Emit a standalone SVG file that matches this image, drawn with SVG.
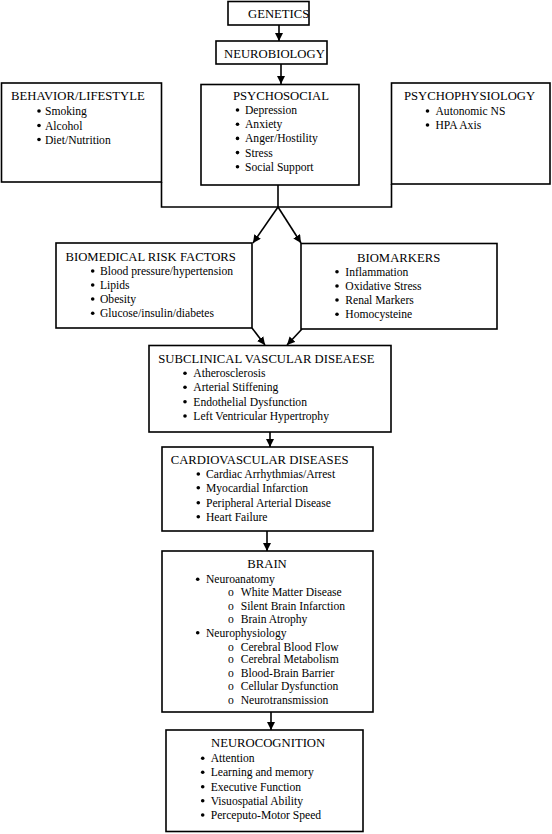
<svg xmlns="http://www.w3.org/2000/svg" width="552" height="834" viewBox="0 0 552 834">
<defs>
<marker id="ah" viewBox="0 0 10 10" refX="10" refY="5" markerWidth="8" markerHeight="8" markerUnits="userSpaceOnUse" orient="auto">
<path d="M0,0 L10,5 L0,10 z" fill="#000"/>
</marker>
<style>
rect.box{fill:#fff;stroke:#000;stroke-width:1.6}
text{font-family:"Liberation Serif","Times New Roman",serif;fill:#000}
.t{font-size:12.7px}
.i{font-size:11.6px}
.ln{fill:none;stroke:#000;stroke-width:1.6}
.ar{fill:none;stroke:#000;stroke-width:1.6;marker-end:url(#ah)}
circle{fill:#000}
</style>
</defs>
<rect width="552" height="834" fill="#fff"/>

<g id="connectors">
<line class="ar" x1="279" y1="25" x2="279" y2="41"/>
<line class="ar" x1="281" y1="64" x2="281" y2="84"/>
<polyline class="ln" points="161.5,182 161.5,207 391.5,207 391.5,184"/>
<line class="ln" x1="278" y1="185" x2="278" y2="207"/>
<line class="ar" x1="278" y1="207" x2="253" y2="243"/>
<line class="ar" x1="278" y1="207" x2="301" y2="243"/>
<line class="ar" x1="252" y1="328" x2="265" y2="345"/>
<line class="ar" x1="302" y1="329" x2="287" y2="345"/>
<line class="ar" x1="270" y1="432" x2="270" y2="447"/>
<line class="ar" x1="267" y1="531" x2="267" y2="551"/>
<line class="ar" x1="271" y1="712" x2="271" y2="730"/>
</g>

<g id="genetics">
<rect class="box" x="228" y="1.5" width="81" height="23.5"/>
<text class="t" x="248" y="18">GENETICS</text>
</g>

<g id="neurobiology">
<rect class="box" x="216" y="41" width="111" height="23"/>
<text class="t" x="224" y="57.5">NEUROBIOLOGY</text>
</g>

<g id="behavior">
<rect class="box" x="1.5" y="83" width="160" height="99"/>
<text class="t" x="11" y="100">BEHAVIOR/LIFESTYLE</text>
<circle cx="39" cy="111" r="1.8"/><text class="i" x="45" y="115">Smoking</text>
<circle cx="39" cy="125.5" r="1.8"/><text class="i" x="45" y="129.5">Alcohol</text>
<circle cx="39" cy="139.5" r="1.8"/><text class="i" x="45" y="143.5">Diet/Nutrition</text>
</g>

<g id="psychosocial">
<rect class="box" x="201" y="84.5" width="158" height="100.5"/>
<text class="t" x="233" y="99.5">PSYCHOSOCIAL</text>
<circle cx="237.5" cy="110" r="1.8"/><text class="i" x="245" y="114">Depression</text>
<circle cx="237.5" cy="124.2" r="1.8"/><text class="i" x="245" y="128.2">Anxiety</text>
<circle cx="237.5" cy="138.4" r="1.8"/><text class="i" x="245" y="142.4">Anger/Hostility</text>
<circle cx="237.5" cy="152.6" r="1.8"/><text class="i" x="245" y="156.6">Stress</text>
<circle cx="237.5" cy="166.8" r="1.8"/><text class="i" x="245" y="170.8">Social Support</text>
</g>

<g id="psychophysiology">
<rect class="box" x="391.5" y="83" width="158.5" height="101"/>
<text class="t" x="404" y="100">PSYCHOPHYSIOLOGY</text>
<circle cx="427.5" cy="111" r="1.8"/><text class="i" x="435.5" y="115">Autonomic NS</text>
<circle cx="427.5" cy="125" r="1.8"/><text class="i" x="435.5" y="129">HPA Axis</text>
</g>

<g id="biomedical">
<rect class="box" x="56" y="243" width="196" height="85"/>
<text class="t" x="65.5" y="260.5">BIOMEDICAL RISK FACTORS</text>
<circle cx="92.7" cy="271" r="1.8"/><text class="i" x="100" y="275">Blood pressure/hypertension</text>
<circle cx="92.7" cy="285" r="1.8"/><text class="i" x="100" y="289">Lipids</text>
<circle cx="92.7" cy="299" r="1.8"/><text class="i" x="100" y="303">Obesity</text>
<circle cx="92.7" cy="313.3" r="1.8"/><text class="i" x="100" y="317.3">Glucose/insulin/diabetes</text>
</g>

<g id="biomarkers">
<rect class="box" x="301" y="243.5" width="196" height="85.5"/>
<text class="t" x="357" y="261.5">BIOMARKERS</text>
<circle cx="337" cy="271.7" r="1.8"/><text class="i" x="345.3" y="275.7">Inflammation</text>
<circle cx="337" cy="286" r="1.8"/><text class="i" x="345.3" y="290">Oxidative Stress</text>
<circle cx="337" cy="300" r="1.8"/><text class="i" x="345.3" y="304">Renal Markers</text>
<circle cx="337" cy="314.3" r="1.8"/><text class="i" x="345.3" y="318.3">Homocysteine</text>
</g>

<g id="subclinical">
<rect class="box" x="149" y="345.5" width="242" height="86.5"/>
<text class="t" x="158.3" y="363">SUBCLINICAL VASCULAR DISEAESE</text>
<circle cx="185" cy="373.3" r="1.8"/><text class="i" x="193.3" y="377.3">Atherosclerosis</text>
<circle cx="185" cy="387.3" r="1.8"/><text class="i" x="193.3" y="391.3">Arterial Stiffening</text>
<circle cx="185" cy="401.7" r="1.8"/><text class="i" x="193.3" y="405.7">Endothelial Dysfunction</text>
<circle cx="185" cy="416" r="1.8"/><text class="i" x="193.3" y="420">Left Ventricular Hypertrophy</text>
</g>

<g id="cardiovascular">
<rect class="box" x="162" y="447" width="211" height="84"/>
<text class="t" x="170.7" y="463.5">CARDIOVASCULAR DISEASES</text>
<circle cx="198.3" cy="474" r="1.8"/><text class="i" x="206" y="478">Cardiac Arrhythmias/Arrest</text>
<circle cx="198.3" cy="487.7" r="1.8"/><text class="i" x="206" y="491.7">Myocardial Infarction</text>
<circle cx="198.3" cy="502.7" r="1.8"/><text class="i" x="206" y="506.7">Peripheral Arterial Disease</text>
<circle cx="198.3" cy="516.7" r="1.8"/><text class="i" x="206" y="520.7">Heart Failure</text>
</g>

<g id="brain">
<rect class="box" x="162" y="551" width="211" height="161"/>
<text class="t" x="247.3" y="568">BRAIN</text>
<circle cx="197.7" cy="579.3" r="1.8"/><text class="i" x="206" y="583.3">Neuroanatomy</text>
<text class="i" x="228" y="596.3">o</text><text class="i" x="240.7" y="596.3">White Matter Disease</text>
<text class="i" x="228" y="609.7">o</text><text class="i" x="240.7" y="609.7">Silent Brain Infarction</text>
<text class="i" x="228" y="623">o</text><text class="i" x="240.7" y="623">Brain Atrophy</text>
<circle cx="197.7" cy="632.7" r="1.8"/><text class="i" x="206" y="636.7">Neurophysiology</text>
<text class="i" x="228" y="650.7">o</text><text class="i" x="240.7" y="650.7">Cerebral Blood Flow</text>
<text class="i" x="228" y="663.3">o</text><text class="i" x="240.7" y="663.3">Cerebral Metabolism</text>
<text class="i" x="228" y="677.3">o</text><text class="i" x="240.7" y="677.3">Blood-Brain Barrier</text>
<text class="i" x="228" y="690">o</text><text class="i" x="240.7" y="690">Cellular Dysfunction</text>
<text class="i" x="228" y="704">o</text><text class="i" x="240.7" y="704">Neurotransmission</text>
</g>

<g id="neurocognition">
<rect class="box" x="166" y="730" width="197" height="101.5"/>
<text class="t" x="211" y="747">NEUROCOGNITION</text>
<circle cx="202.7" cy="758.3" r="1.8"/><text class="i" x="210.7" y="762.3">Attention</text>
<circle cx="202.7" cy="772.3" r="1.8"/><text class="i" x="210.7" y="776.3">Learning and memory</text>
<circle cx="202.7" cy="786.7" r="1.8"/><text class="i" x="210.7" y="790.7">Executive Function</text>
<circle cx="202.7" cy="800.7" r="1.8"/><text class="i" x="210.7" y="804.7">Visuospatial Ability</text>
<circle cx="202.7" cy="815" r="1.8"/><text class="i" x="210.7" y="819">Perceputo-Motor Speed</text>
</g>
</svg>
